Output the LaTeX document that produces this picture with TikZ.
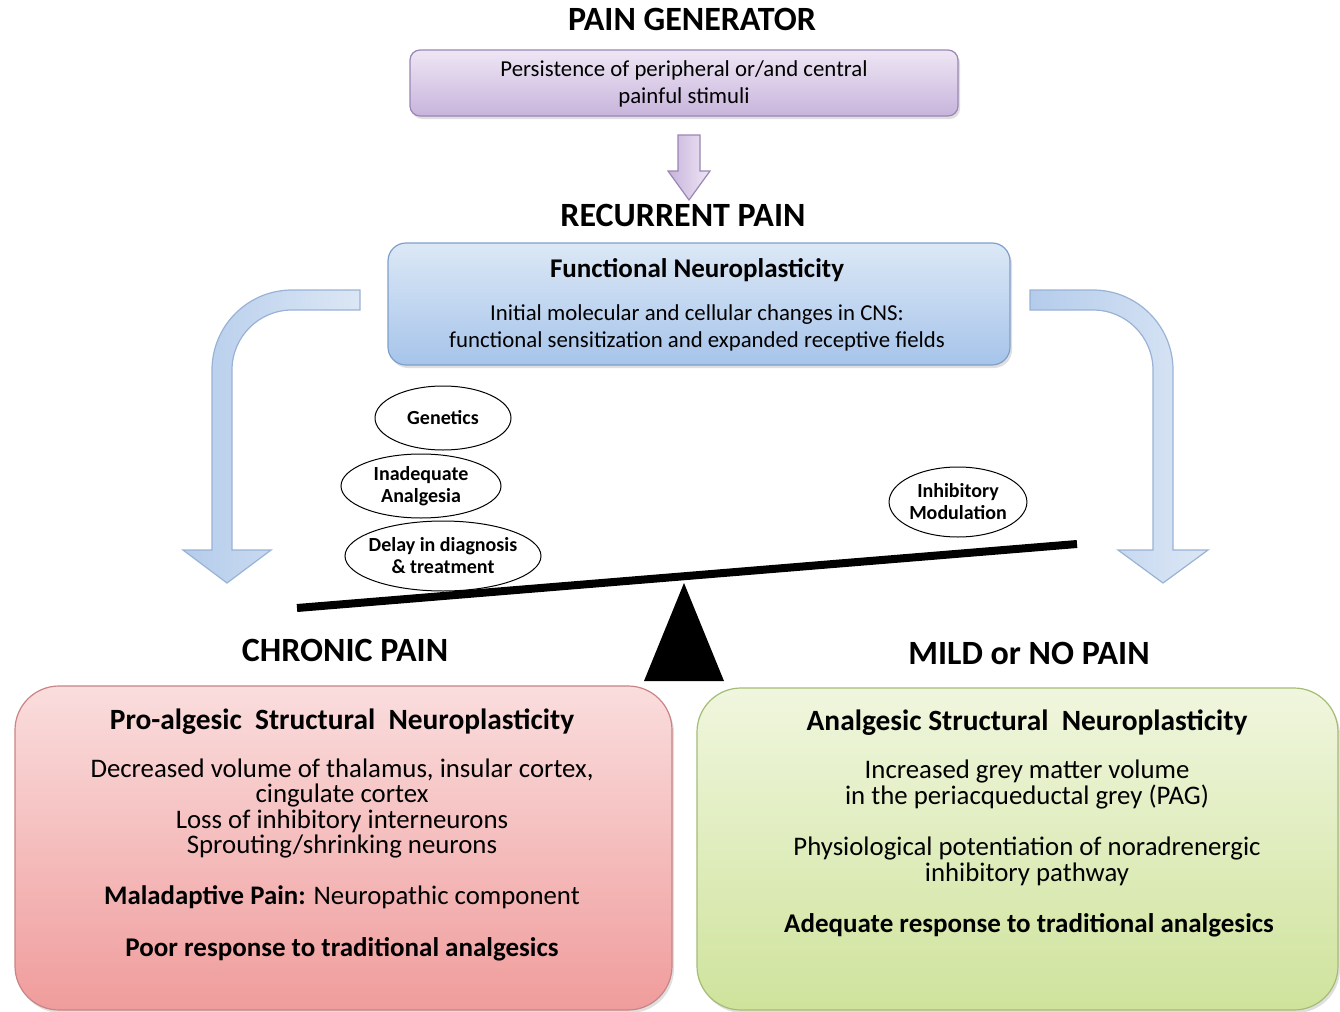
\documentclass[tikz,border=0pt]{standalone}
\usepackage{fontspec}
\setmainfont{Carlito}
\usetikzlibrary{shapes.geometric,shadows}
\definecolor{purpT}{HTML}{EEE6F4}
\definecolor{purpB}{HTML}{C8B4DC}
\definecolor{purpD}{HTML}{9A86B4}
\definecolor{blueT}{HTML}{DCE8F6}
\definecolor{blueB}{HTML}{A6C4EA}
\definecolor{blueD}{HTML}{7F9FCB}
\definecolor{arrT}{HTML}{DCE7F5}
\definecolor{arrB}{HTML}{B4CCEB}
\definecolor{redT}{HTML}{FADDDD}
\definecolor{redB}{HTML}{F09C9C}
\definecolor{redD}{HTML}{C98484}
\definecolor{grnT}{HTML}{F0F6DE}
\definecolor{grnB}{HTML}{CFE39C}
\definecolor{grnD}{HTML}{A5BC74}
\tikzset{
  heading/.style={font=\bfseries\fontsize{17}{20}\selectfont, anchor=base, inner sep=0pt},
  txt/.style={font=\fontsize{11.4}{13}\selectfont, anchor=base, inner sep=0pt},
  btxt/.style={font=\bfseries\fontsize{13.5}{15}\selectfont, anchor=base, inner sep=0pt},
  bigtxt/.style={font=\fontsize{13.4}{15}\selectfont, anchor=base, inner sep=0pt},
  bigbold/.style={font=\bfseries\fontsize{13.5}{15}\selectfont, anchor=base, inner sep=0pt},
  paneltitle/.style={font=\bfseries\fontsize{14.7}{16}\selectfont, anchor=base, inner sep=0pt},
  panel/.style={rectangle, inner sep=0pt, line width=0.6pt,
     drop shadow={opacity=0.25, shadow xshift=1pt, shadow yshift=-1.5pt}},
  factor/.style={ellipse, draw=black, line width=0.5pt, fill=white, inner sep=0pt,
     align=center, font=\bfseries\fontsize{10}{11}\selectfont},
  blockarrow/.style={draw=blueD!80, line width=0.6pt, left color=arrB, right color=arrT},
}
\begin{document}
\begin{tikzpicture}[x=0.5pt, y=-0.5pt]
\useasboundingbox (0,0) rectangle (1340,1012);

% top
\node[heading] (pgt) at (692,31) {PAIN GENERATOR};
\node[panel, draw=purpD, top color=purpT, bottom color=purpB, rounded corners=5pt,
      minimum width=274pt, minimum height=33pt] (pg) at (684,83) {};
\node[txt] (pg1) at (684,76) {Persistence of peripheral or/and central};
\node[txt] (pg2) at (684,103) {painful stimuli};

% down arrow
\coordinate (da) at (689,135);
\draw[draw=purpD, line width=0.6pt, left color=purpB, right color=purpT]
  ([shift={(-11,0)}]da) -- ([shift={(-11,36)}]da) -- ([shift={(-21,36)}]da)
  -- ([shift={(0,65)}]da) -- ([shift={(21,36)}]da) -- ([shift={(11,36)}]da)
  -- ([shift={(11,0)}]da) -- cycle;

\node[heading] (rpt) at (683,226) {RECURRENT PAIN};
\node[panel, draw=blueD, top color=blueT, bottom color=blueB, rounded corners=9pt,
      minimum width=311pt, minimum height=61pt] (rp) at (699,304) {};
\node[btxt] (rp1) at (697,277) {Functional Neuroplasticity};
\node[txt] (rp2) at (697,320) {Initial molecular and cellular changes in CNS:};
\node[txt] (rp3) at (697,347) {functional sensitization and expanded receptive fields};

% curved arrows
\draw[blockarrow] (360,290) -- (292,290) arc[start angle=270, end angle=180, radius=80]
  -- (212,550) -- (183,550) -- (227,583) -- (271,550) -- (232,550)
  -- (232,370) arc[start angle=180, end angle=270, radius=60] -- (360,310) -- cycle;
\draw[blockarrow] (1030,290) -- (1093,290) arc[start angle=270, end angle=360, radius=80]
  -- (1173,550) -- (1208,550) -- (1163,583) -- (1118,550) -- (1153,550)
  -- (1153,370) arc[start angle=360, end angle=270, radius=60] -- (1030,310) -- cycle;

% factors
\node[factor, minimum width=68pt, minimum height=32pt] (gen) at (443,418) {Genetics};
\node[factor, minimum width=80pt, minimum height=32pt] (ina) at (421,486) {Inadequate\\Analgesia};
\node[factor, inner xsep=-4pt, inner ysep=-1pt, minimum width=98pt, minimum height=35pt] (del) at (443,556) {Delay in diagnosis\\\& treatment};
\node[factor, minimum width=67pt, minimum height=35pt] (inh) at (958,502) {Inhibitory\\Modulation};

% balance
\coordinate (bl) at (297,608);
\coordinate (br) at (1077,544);
\draw[line width=4pt] (bl) -- (br);
\coordinate (apex) at (684,583);
\fill[black] (apex) -- (644,681) -- (724,681) -- cycle;

\node[heading] (cpt) at (345,661) {CHRONIC PAIN};
\node[heading] (mpt) at (1029,664) {MILD or NO PAIN};

% red panel
\node[panel, draw=redD, top color=redT, bottom color=redB, rounded corners=22pt,
      minimum width=328.5pt, minimum height=162pt] (cp) at (343.5,848) {};
\node[paneltitle] (cp1) at (342,729) {Pro-algesic\ \ Structural\ \ Neuroplasticity};
\node[bigtxt] (cp2) at (342,777) {Decreased volume of thalamus, insular cortex,};
\node[bigtxt] (cp3) at (342,802) {cingulate cortex};
\node[bigtxt] (cp4) at (342,828) {Loss of inhibitory interneurons};
\node[bigtxt] (cp5) at (342,853) {Sprouting/shrinking neurons};
\node[bigtxt] (cp6) at (342,904) {\textbf{Maladaptive Pain:} Neuropathic component};
\node[bigbold] (cp7) at (342,956) {Poor response to traditional analgesics};

% green panel
\node[panel, draw=grnD, top color=grnT, bottom color=grnB, rounded corners=22pt,
      minimum width=320.5pt, minimum height=161pt] (mp) at (1017.5,849) {};
\node[paneltitle] (mp1) at (1027,730) {Analgesic Structural\ \ Neuroplasticity};
\node[bigtxt] (mp2) at (1027,778) {Increased grey matter volume};
\node[bigtxt] (mp3) at (1027,804) {in the periacqueductal grey (PAG)};
\node[bigtxt] (mp4) at (1027,855) {Physiological potentiation of noradrenergic};
\node[bigtxt] (mp5) at (1027,881) {inhibitory pathway};
\node[bigbold] (mp6) at (1029,932) {Adequate response to traditional analgesics};
\end{tikzpicture}
\end{document}
